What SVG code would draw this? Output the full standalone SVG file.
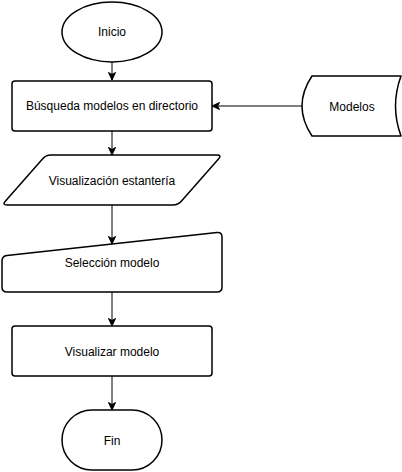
<svg xmlns="http://www.w3.org/2000/svg" width="402" height="472" viewBox="0 0 402 472">
<style>
.shape{fill:#ffffff;stroke:#000000;stroke-width:1.5;stroke-linejoin:round}
.edge{fill:none;stroke:#000000;stroke-width:1}
.label{font-family:"Liberation Sans",Arial,sans-serif;font-size:12px;fill:#000000;text-anchor:middle;dominant-baseline:central}
</style>
<defs>
<marker id="arrow" markerUnits="userSpaceOnUse" markerWidth="10" markerHeight="10" viewBox="0 0 10 10" refX="8" refY="5" orient="auto">
<path d="M0.5,1.5 L8,5 L0.5,8.5 L2.5,5 Z" fill="#000000" stroke="#000000" stroke-width="1"/>
</marker>
</defs>
<rect width="402" height="472" fill="#ffffff"/>
<g id="connectors">
<line class="edge" x1="112" y1="62" x2="112" y2="80" marker-end="url(#arrow)"/>
<line class="edge" x1="112" y1="131" x2="112" y2="155" marker-end="url(#arrow)"/>
<line class="edge" x1="112" y1="205" x2="112" y2="244" marker-end="url(#arrow)"/>
<line class="edge" x1="112" y1="292" x2="112" y2="326" marker-end="url(#arrow)"/>
<line class="edge" x1="112" y1="376" x2="112" y2="410" marker-end="url(#arrow)"/>
<line class="edge" x1="302" y1="106" x2="212" y2="106" marker-end="url(#arrow)"/>
</g>
<g id="inicio">
<ellipse class="shape" cx="112" cy="32" rx="50" ry="30"/>
<text class="label" x="112" y="32">Inicio</text>
</g>
<g id="busqueda">
<rect class="shape" x="12" y="81" width="200" height="50" rx="3"/>
<text class="label" x="112" y="106">Búsqueda modelos en directorio</text>
</g>
<g id="modelos">
<path class="shape" d="M312,76 L401,76 Q390,106 401,136 L312,136 Q292,106 312,76 Z"/>
<text class="label" x="352" y="107">Modelos</text>
</g>
<g id="visualizacion">
<path class="shape" d="M51,155 L217,155 Q222,155 218.7,158.75 L181.3,201.25 Q178,205 173,205 L7,205 Q2,205 5.3,201.25 L42.7,158.75 Q46,155 51,155 Z"/>
<text class="label" x="112" y="181">Visualización estantería</text>
</g>
<g id="seleccion">
<path class="shape" d="M6.97,255.46 L217.03,232.54 Q222,232 222,237 L222,287 Q222,292 217,292 L7,292 Q2,292 2,287 L2,261 Q2,256 6.97,255.46 Z"/>
<text class="label" x="112" y="263">Selección modelo</text>
</g>
<g id="visualizar">
<rect class="shape" x="12" y="326" width="200" height="50" rx="3"/>
<text class="label" x="112" y="352">Visualizar modelo</text>
</g>
<g id="fin">
<rect class="shape" x="62" y="410" width="100" height="60" rx="30"/>
<text class="label" x="112" y="441">Fin</text>
</g>
</svg>
